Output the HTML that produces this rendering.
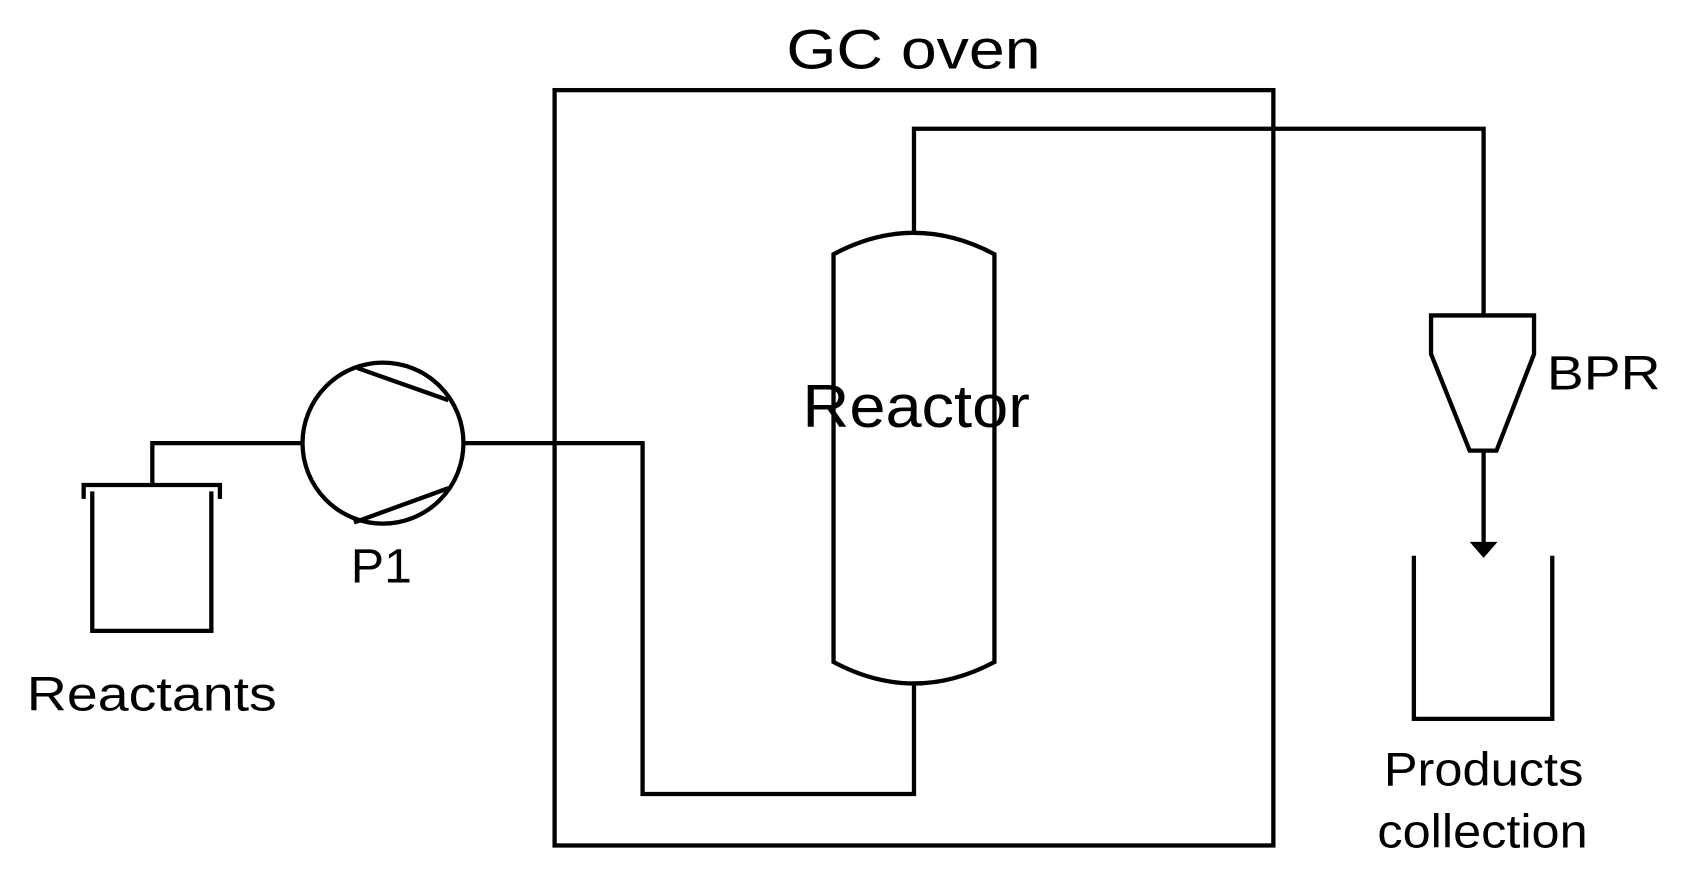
<!DOCTYPE html>
<html><head><style>html,body{margin:0;padding:0;background:#fff;width:1681px;height:890px;overflow:hidden}</style></head>
<body>
<svg width="1681" height="890" viewBox="0 0 1567 829.5" preserveAspectRatio="none" xmlns="http://www.w3.org/2000/svg">
<g fill="none" stroke="#000" stroke-width="4">
<rect x="517" y="84" width="670" height="704"/>
<path d="M777,237 Q852,197 927,237 L927,617 Q852,657 777,617 Z" fill="#fff"/>
<path d="M852,217 L852,120 L1383,120 L1383,294"/>
<path d="M1334,294 L1430,294 L1430,330 L1395,420 L1370,420 L1334,330 Z"/>
<path d="M1383,420 L1383,508"/>
<path d="M1318,518 L1318,670 L1447,670 L1447,518"/>
<path d="M852,637 L852,740 L599,740 L599,413 L432,413"/>
<circle cx="357" cy="413" r="75"/>
<path d="M333,343 L418,373 M330,487 L418,455"/>
<path d="M282,413 L142,413 L142,452"/>
<path d="M78,465 L78,452 L205,452 L205,465"/>
<path d="M86,458 L86,588 L197,588 L197,458"/>
</g>
<polygon points="1370,505 1396,505 1383,520" fill="#000"/>
<g font-family="Liberation Sans, sans-serif" fill="#000" lengthAdjust="spacingAndGlyphs">
<text x="733" y="64" font-size="52" textLength="237" lengthAdjust="spacingAndGlyphs">GC oven</text>
<text x="748" y="398" font-size="56" textLength="212" lengthAdjust="spacingAndGlyphs">Reactor</text>
<text x="1442" y="363" font-size="45" textLength="106" lengthAdjust="spacingAndGlyphs">BPR</text>
<text x="1290" y="732" font-size="44" textLength="186" lengthAdjust="spacingAndGlyphs">Products</text>
<text x="1284" y="790" font-size="44" textLength="196" lengthAdjust="spacingAndGlyphs">collection</text>
<text x="25" y="662" font-size="45" textLength="233" lengthAdjust="spacingAndGlyphs">Reactants</text>
<text x="327" y="543" font-size="45" textLength="57" lengthAdjust="spacingAndGlyphs">P1</text>
</g>
</svg>
</body></html>
